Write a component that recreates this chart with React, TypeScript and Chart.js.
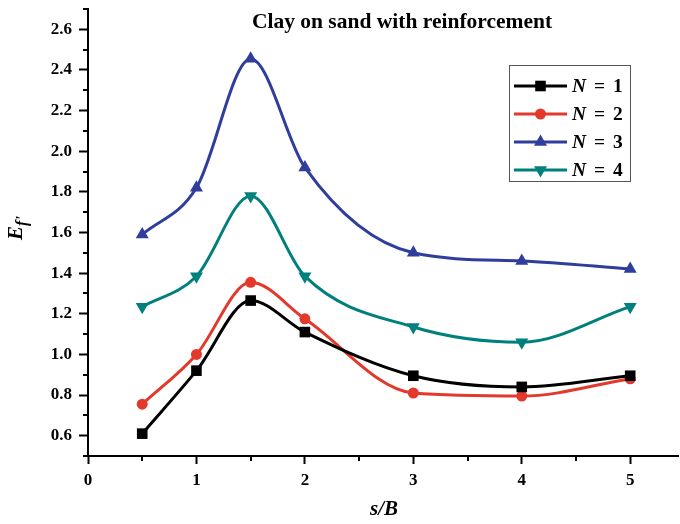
import React, { useEffect, useRef } from 'react';
import { Chart, registerables } from 'chart.js';

Chart.register(...registerables);

// ---- data ----
const sOverB = [0.5, 1, 1.5, 2, 3, 4, 5];
const efN1 = [0.61, 0.92, 1.265, 1.11, 0.895, 0.84, 0.895];
const efN2 = [0.755, 1.0, 1.355, 1.175, 0.81, 0.795, 0.88];
const efN3 = [1.59, 1.82, 2.455, 1.92, 1.5, 1.46, 1.42];
const efN4 = [1.235, 1.385, 1.78, 1.385, 1.135, 1.06, 1.235];
const seriesNames = ['1', '2', '3', '4'];
const xTickValues = [0, 1, 2, 3, 4, 5];
const yTickValues = [0.6, 0.8, 1.0, 1.2, 1.4, 1.6, 1.8, 2.0, 2.2, 2.4, 2.6];
const xMinorTicks = [0.5, 1.5, 2.5, 3.5, 4.5];
const yMinorTicks = [0.5, 0.7, 0.9, 1.1, 1.3, 1.5, 1.7, 1.9, 2.1, 2.3, 2.5, 2.7];
const chartTitle = 'Clay on sand with reinforcement';
const xTitle = 's/B';

const FONT = "'Liberation Serif', 'Times New Roman', serif";
const colors = ['#000000', '#e3392c', '#2f3d9c', '#00807c'];
const styles: any[] = ['rect', 'circle', 'triangle', 'triangle'];
const rotations = [0, 0, 0, 180];
const radii = [7.5, 5.5, 7.5, 7.5];

function drawMarker(ctx: CanvasRenderingContext2D, i: number, x: number, y: number) {
  ctx.save();
  ctx.fillStyle = colors[i];
  const r = radii[i];
  ctx.beginPath();
  if (i === 0) {
    const s = Math.SQRT1_2 * r;
    ctx.rect(x - s, y - s, 2 * s, 2 * s);
  } else if (i === 1) {
    ctx.arc(x, y, r, 0, Math.PI * 2);
  } else {
    const rot = (rotations[i] * Math.PI) / 180;
    let a = rot;
    ctx.moveTo(x + Math.sin(a) * r, y - Math.cos(a) * r);
    a += (2 * Math.PI) / 3;
    ctx.lineTo(x + Math.sin(a) * r, y - Math.cos(a) * r);
    a += (2 * Math.PI) / 3;
    ctx.lineTo(x + Math.sin(a) * r, y - Math.cos(a) * r);
    ctx.closePath();
  }
  ctx.fill();
  ctx.restore();
}

const decorPlugin = {
  id: 'decor',
  afterDraw(chart: any) {
    const ctx: CanvasRenderingContext2D = chart.ctx;
    const xs = chart.scales.x;
    const ys = chart.scales.y;
    const area = chart.chartArea;
    ctx.save();
    // axis line continues to the right edge
    ctx.strokeStyle = '#000';
    ctx.lineWidth = 2;
    ctx.beginPath();
    ctx.moveTo(area.right - 1, area.bottom);
    ctx.lineTo(679, area.bottom);
    ctx.stroke();
    // minor ticks
    ctx.beginPath();
    xMinorTicks.forEach((v) => {
      const px = Math.round(xs.getPixelForValue(v));
      ctx.moveTo(px, area.bottom);
      ctx.lineTo(px, area.bottom + 5);
    });
    yMinorTicks.forEach((v) => {
      const py = Math.round(ys.getPixelForValue(v));
      ctx.moveTo(area.left, py);
      ctx.lineTo(area.left - 5, py);
    });
    ctx.stroke();

    // title
    ctx.fillStyle = '#000';
    ctx.font = `bold 21.5px ${FONT}`;
    ctx.textAlign = 'center';
    ctx.textBaseline = 'middle';
    ctx.fillText(chartTitle, 402, 22);

    // x title
    ctx.font = `italic bold 21px ${FONT}`;
    ctx.fillText(xTitle, 384, 510);

    // y title E_f'
    ctx.save();
    ctx.translate(22, 228);
    ctx.rotate(-Math.PI / 2);
    ctx.textAlign = 'left';
    ctx.textBaseline = 'alphabetic';
    ctx.font = `italic bold 21px ${FONT}`;
    const wE = ctx.measureText('E').width;
    ctx.font = `italic bold 16px ${FONT}`;
    const wf = ctx.measureText("f'").width;
    const total = wE + wf;
    ctx.font = `italic bold 21px ${FONT}`;
    ctx.fillText('E', -total / 2, 0);
    ctx.font = `italic bold 16px ${FONT}`;
    ctx.fillText("f'", -total / 2 + wE, 5);
    ctx.restore();

    // legend
    const bx = 509.5, by = 65.5, bw = 121, bh = 116;
    ctx.strokeStyle = '#555';
    ctx.lineWidth = 1;
    ctx.strokeRect(bx, by, bw, bh);
    const rows = [86, 114, 142, 170];
    rows.forEach((ry, i) => {
      ctx.strokeStyle = colors[i];
      ctx.lineWidth = 3;
      ctx.beginPath();
      ctx.moveTo(514, ry);
      ctx.lineTo(567, ry);
      ctx.stroke();
      drawMarker(ctx, i, 540.5, ry);
      ctx.fillStyle = '#000';
      ctx.textAlign = 'left';
      ctx.textBaseline = 'middle';
      ctx.font = `italic bold 19.5px ${FONT}`;
      ctx.fillText('N', 572, ry + 1);
      ctx.font = `bold 19.5px ${FONT}`;
      ctx.fillText('=', 594, ry + 1);
      ctx.fillText(seriesNames[i], 613, ry + 1);
    });
    ctx.restore();
  },
};

export default function App() {
  const ref = useRef<HTMLCanvasElement | null>(null);
  useEffect(() => {
    document.body.style.margin = '0';
    const canvas = ref.current!;
    const series = [efN1, efN2, efN3, efN4];
    const chart = new Chart(canvas, {
      type: 'line',
      data: {
        datasets: series.map((vals, i) => ({
          label: 'N = ' + seriesNames[i],
          data: sOverB.map((x, j) => ({ x, y: vals[j] })),
          borderColor: colors[i],
          backgroundColor: colors[i],
          borderWidth: 3,
          pointStyle: styles[i],
          pointRotation: rotations[i],
          pointRadius: radii[i],
          pointBackgroundColor: colors[i],
          pointBorderColor: colors[i],
          pointBorderWidth: 0,
          cubicInterpolationMode: 'monotone',
          tension: 0.4,
          fill: false,
          clip: false,
        })),
      },
      options: {
        responsive: false,
        animation: false,
        devicePixelRatio: 1,
        layout: { padding: { top: 9, right: 0, left: 0, bottom: 0 } },
        plugins: { legend: { display: false }, tooltip: { enabled: false }, title: { display: false } },
        scales: {
          x: {
            type: 'linear',
            min: 0,
            max: 5.39,
            afterBuildTicks: (axis: any) => {
              axis.ticks = xTickValues.map((v) => ({ value: v }));
            },
            afterFit: (axis: any) => {
              axis.height = 68;
              axis.paddingLeft = 0;
              axis.paddingRight = 0;
            },
            grid: { drawOnChartArea: false, drawTicks: true, tickLength: 8, tickWidth: 2, tickColor: '#000' },
            border: { display: true, color: '#000', width: 2 },
            ticks: {
              color: '#000',
              font: { family: FONT, weight: 'bold', size: 17 },
              padding: 6,
              maxRotation: 0,
              autoSkip: false,
              callback: (v: any) => String(v),
            },
          },
          y: {
            type: 'linear',
            min: 0.5,
            max: 2.7,
            afterBuildTicks: (axis: any) => {
              axis.ticks = yTickValues.map((v) => ({ value: v }));
            },
            afterFit: (axis: any) => {
              axis.width = 88;
              axis.paddingTop = 0;
              axis.paddingBottom = 0;
            },
            grid: { drawOnChartArea: false, drawTicks: true, tickLength: 9, tickWidth: 2, tickColor: '#000' },
            border: { display: true, color: '#000', width: 2 },
            ticks: {
              color: '#000',
              font: { family: FONT, weight: 'bold', size: 17 },
              padding: 7,
              autoSkip: false,
              callback: (v: any) => Number(v).toFixed(1),
            },
          },
        },
      },
      plugins: [decorPlugin],
    } as any);
    return () => chart.destroy();
  }, []);
  return <canvas ref={ref} width={680} height={524} style={{ display: 'block', width: 680, height: 524 }} />;
}
